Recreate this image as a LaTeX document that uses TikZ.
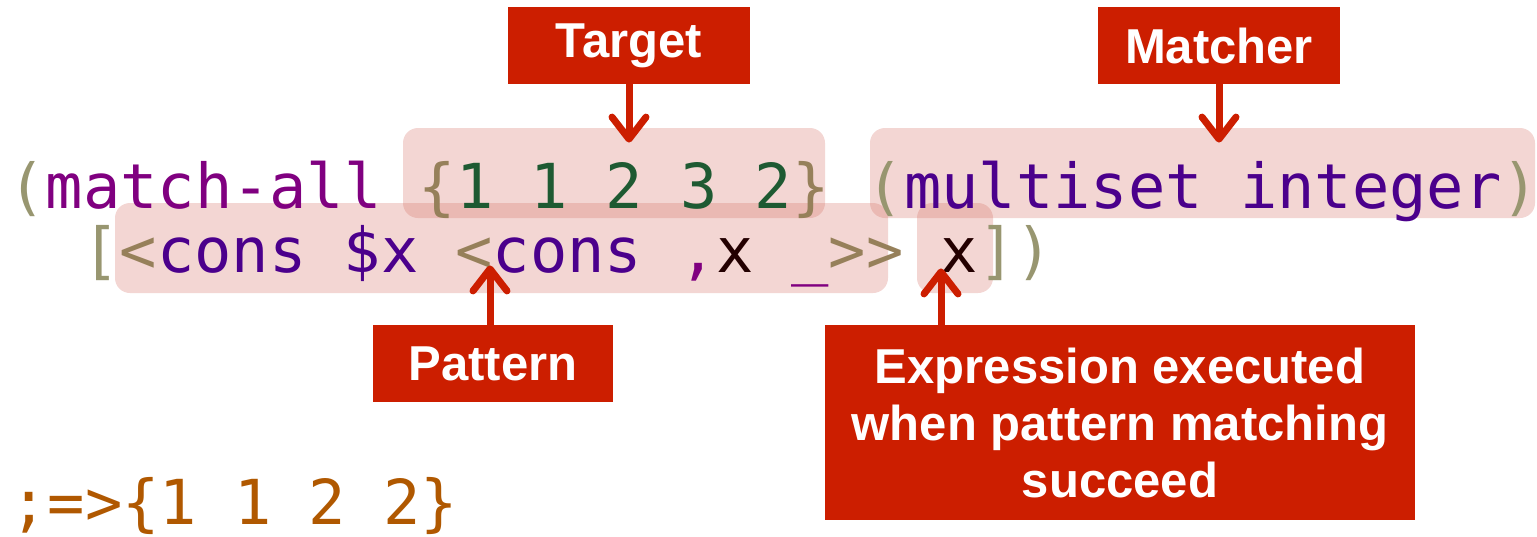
\documentclass[tikz,border=0pt]{standalone}
\usepackage{fontspec}
\setmainfont{Liberation Sans}
\setmonofont{DejaVu Sans Mono}
\definecolor{rojo}{RGB}{204,30,0}
\definecolor{resalte}{RGB}{215,118,108}
\definecolor{paren}{RGB}{152,150,112}
\definecolor{clave}{RGB}{128,0,128}
\definecolor{llave}{RGB}{150,128,90}
\definecolor{numero}{RGB}{30,90,50}
\definecolor{tipo}{RGB}{75,0,140}
\definecolor{variable}{RGB}{35,0,0}
\definecolor{resultado}{RGB}{176,88,0}
\usepackage{tikz}
\usetikzlibrary{arrows.meta,positioning,calc}

\begin{document}
\begin{tikzpicture}[x=0.5pt,y=-0.5pt,
    codigo/.style={font=\fontsize{31}{31}\selectfont\ttfamily,anchor=base west,inner sep=0pt},
    marca/.style={fill=resalte,fill opacity=0.3,rounded corners=7.5pt,inner sep=0pt,minimum height=45pt},
    etiqueta/.style={fill=rojo,text=white,font=\fontsize{24.5}{28.5}\selectfont\bfseries,align=center,inner sep=0pt},
    flecha/.style={-{Straight Barb[length=11pt,width=17pt,round]},rojo,line width=3.5pt,line cap=round}]
  \useasboundingbox (0,0) rectangle (1537,536);
  % zonas resaltadas
  \node[marca,minimum width=211pt] (tgt) at (614,173) {};
  \node[marca,minimum width=332.5pt] (mat) at (1202.5,173) {};
  \node[marca,minimum width=386.5pt] (pat) at (501.5,248) {};
  \node[marca,minimum width=38pt] (expr) at (955,248) {};
  % codigo
  \node[codigo] (linea1) at (8,208) {\textcolor{paren}{(}\textcolor{clave}{match-all} \textcolor{llave}{\{}\textcolor{numero}{1 1 2 3 2}\textcolor{llave}{\}} \textcolor{paren}{(}\textcolor{tipo}{multiset integer}\textcolor{paren}{)}};
  \node[codigo] (linea2) at (82,272) {\textcolor{paren}{[}\textcolor{llave}{<}\textcolor{tipo}{cons \$x} \textcolor{llave}{<}\textcolor{tipo}{cons} \textcolor{clave}{,}\textcolor{variable}{x} \textcolor{clave}{\_}\textcolor{llave}{>>} \textcolor{variable}{x}\textcolor{paren}{])}};
  \node[codigo,text=resultado] (linea3) at (10,524) {;=>\{1 1 2 2\}};
  % etiquetas
  \node[etiqueta,minimum width=121pt,minimum height=38.5pt] (lTarget) at (629,45.5) {Target};
  \node[etiqueta,minimum width=121pt,minimum height=38.5pt] (lMatcher) at (1219,45.5) {Matcher};
  \node[etiqueta,minimum width=120pt,minimum height=38.5pt] (lPattern) at (493,363.5) {Pattern};
  \node[etiqueta,minimum width=295pt,minimum height=97.5pt] (lExpr) at (1120,422.5)
    {Expression executed\\when pattern matching\\succeed};
  % flechas
  \draw[flecha] (lTarget.south) -- ([yshift=-7.5pt]lTarget.south |- tgt.north);
  \draw[flecha] (lMatcher.south) -- ([yshift=-7.5pt]lMatcher.south |- mat.north);
  \draw[flecha] ([xshift=-1.5pt]lPattern.north) -- ([xshift=-1.5pt,yshift=14pt]lPattern.north |- pat.south);
  \draw[flecha] ([xshift=-7pt]expr.south |- lExpr.north) -- ([xshift=-7pt,yshift=12.5pt]expr.south);
\end{tikzpicture}
\end{document}
